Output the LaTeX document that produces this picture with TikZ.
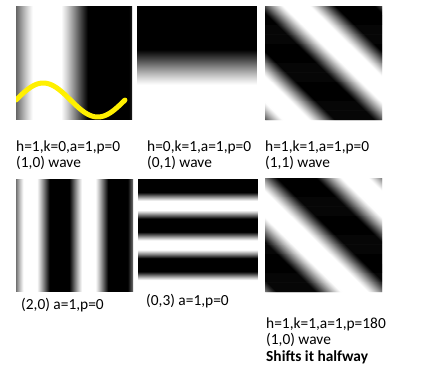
\documentclass[tikz,border=0pt]{standalone}
\usepackage{fontspec}
\setmainfont{Carlito}
\usepackage{xcolor}
\usepackage{tikz}

\begin{document}
\begin{tikzpicture}[
    x=1pt, y=-1pt,
    caption/.style={anchor=base west, inner sep=0pt, align=left,
        font=\fontsize{15.4}{16.4}\selectfont}
]
% Define colors
\definecolor{curveyellow}{RGB}{255,240,0}

\useasboundingbox (0,0) rectangle (422,367);

% Panel A: (1,0) wave, with its profile
\begin{scope}
\clip (16,6) rectangle (132,120);
\foreach \i in {0,...,115} {
    \pgfmathsetmacro\lev{max(0,min(1,0.4+0.8*cos(360*((\i+0.5)/116-0.27)/1.06)))}
    \definecolor{wavegray}{gray}{\lev}
    \fill[wavegray] (16+\i,6) rectangle (17.5+\i,120);
}
\draw[curveyellow, line width=5pt, line cap=round]
    plot[domain=0:1, samples=80] ({16+109*\x},{100-17*sin(360*\x)});
\end{scope}

% Panel B: (0,1) wave
\begin{scope}
\clip (137,6) rectangle (257,121);
\foreach \i in {0,...,114} {
    \pgfmathsetmacro\lev{max(0,min(1,0.4+0.8*cos(360*((\i+0.5)/115-0.85)/1.4)))}
    \definecolor{wavegray}{gray}{\lev}
    \fill[wavegray] (137,6+\i) rectangle (257,7.5+\i);
}
\end{scope}

% Panel C: (1,1) wave
\begin{scope}
\clip (265,6) rectangle (382,120);
\foreach \i in {-117,...,116} {
    \pgfmathsetmacro\lev{max(0,min(1,0.4+0.8*cos(360*((\i+0.5)/117-0.27))))}
    \definecolor{wavegray}{gray}{\lev}
    \fill[wavegray] (265+\i,6) -- (382+\i,120) -- (383.5+\i,120) -- (266.5+\i,6) -- cycle;
}
\end{scope}

% Panel D: (2,0) wave
\begin{scope}
\clip (16,179) rectangle (133,292);
\foreach \i in {0,...,116} {
    \pgfmathsetmacro\lev{max(0,min(1,0.4+0.8*cos(360*((\i+0.5)/117-0.125)/0.5)))}
    \definecolor{wavegray}{gray}{\lev}
    \fill[wavegray] (16+\i,179) rectangle (17.5+\i,292);
}
\end{scope}

% Panel E: (0,3) wave
\begin{scope}
\clip (138,179) rectangle (258,289);
\foreach \i in {0,...,109} {
    \pgfmathsetmacro\lev{max(0,min(1,0.4+0.8*cos(360*((\i+0.5)/110-0.245)/0.36)))}
    \definecolor{wavegray}{gray}{\lev}
    \fill[wavegray] (138,179+\i) rectangle (258,180.5+\i);
}
\end{scope}

% Panel F: (1,1) wave, phase 180
\begin{scope}
\clip (265,178) rectangle (382,292);
\foreach \i in {-117,...,116} {
    \pgfmathsetmacro\lev{max(0,min(1,0.4+0.8*cos(360*((\i+0.5)/117-0.77))))}
    \definecolor{wavegray}{gray}{\lev}
    \fill[wavegray] (265+\i,178) -- (382+\i,292) -- (383.5+\i,292) -- (266.5+\i,178) -- cycle;
}
\end{scope}

% Captions (base = last line)
\node[caption] (capA) at (16,167.7) {h=1,k=0,a=1,p=0\\(1,0) wave};
\node[caption] (capB) at (147,167.7) {h=0,k=1,a=1,p=0\\(0,1) wave};
\node[caption] (capC) at (265,167.7) {h=1,k=1,a=1,p=0\\(1,1) wave};
\node[caption] (capD) at (21,309.3) {(2,0) a=1,p=0};
\node[caption] (capE) at (146,305) {(0,3) a=1,p=0};
\node[caption] (capF) at (266,361) {h=1,k=1,a=1,p=180\\(1,0) wave\\\textbf{Shifts it halfway}};

\end{tikzpicture}
\end{document}
